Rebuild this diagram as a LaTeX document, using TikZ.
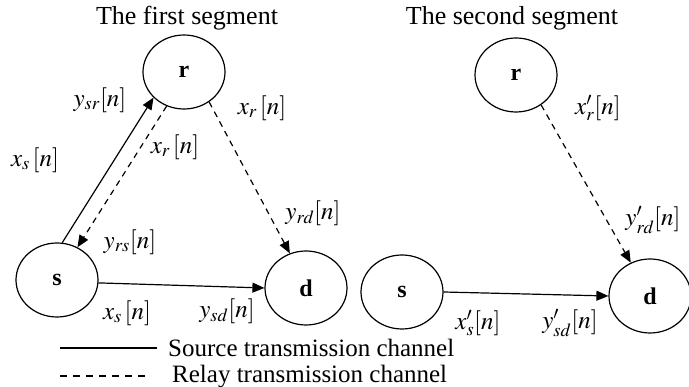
\documentclass[tikz,border=0pt]{standalone}
\usepackage{mathptmx}
\usepackage[no-math]{fontspec}
\setmainfont{Liberation Serif}
\usetikzlibrary{arrows.meta,shapes.geometric}
\begin{document}
\begin{tikzpicture}[x=1pt,y=-1pt,
  nd/.style={ellipse, draw, line width=1.2pt, minimum width=82pt, minimum height=74pt, inner sep=0pt, font=\fontsize{24}{24}\selectfont\bfseries},
  lb/.style={font=\fontsize{25}{25}\selectfont, inner sep=0pt},
  ttl/.style={font=\fontsize{26}{26}\selectfont, inner sep=0pt},
  leg/.style={font=\fontsize{25}{25}\selectfont, inner sep=0pt, anchor=west},
  solidarr/.style={line width=1.2pt, -{Triangle[length=12pt,width=10pt]}},
  dasharr/.style={solidarr, dash pattern=on 6pt off 5pt},
  legline/.style={line width=1.2pt},
  legdash/.style={line width=1.2pt, dash pattern=on 7pt off 6pt}]
\useasboundingbox (0,0) rectangle (689,387);
% titles
\node[ttl] (t1) at (187,18) {The first segment};
\node[ttl] (t2) at (512,18) {The second segment};
% first segment nodes
\node[nd] (r1) at (184,72) {r};
\node[nd] (s1) at (57,280) {s};
\node[nd] (d1) at (306,288) {d};
% second segment nodes
\node[nd] (r2) at (516,75) {r};
\node[nd] (s2) at (402,292) {s};
\node[nd] (d2) at (650,296) {d};
% first segment edges
\draw[solidarr] (s1.82) -- (r1.220);
\draw[dasharr] (r1.243) -- (s1.58);
\draw[dasharr] (r1.310) -- (d1.115);
\draw[solidarr] (s1.-4) -- (d1.west);
% second segment edges
\draw[dasharr] (r2.310) -- (d2.120);
\draw[solidarr] (s2.east) -- (d2.west);
% labels first segment
\node[lb] (l1) at (100,100) {$y_{sr}[n]$};
\node[lb] (l2) at (262,108) {$x_r\,[n]$};
\node[lb] (l3) at (175,147) {$x_r\,[n]$};
\node[lb] (l4) at (35,160) {$x_s\,[n]$};
\node[lb] (l5) at (313,213) {$y_{rd}[n]$};
\node[lb] (l6) at (130,242) {$y_{rs}[n]$};
\node[lb] (l7) at (127,313) {$x_s\,[n]$};
\node[lb] (l8) at (227,311) {$y_{sd}[n]$};
% labels second segment
\node[lb] (m1) at (598,108) {$x'_r[n]$};
\node[lb] (m2) at (653,220) {$y'_{rd}[n]$};
\node[lb] (m3) at (478,323) {$x'_s[n]$};
\node[lb] (m4) at (570,323) {$y'_{sd}[n]$};
% legend
\coordinate (a1) at (60,348);
\coordinate (a2) at (157,348);
\coordinate (b1) at (60,376);
\coordinate (b2) at (147,376);
\draw[legline] (a1) -- (a2);
\draw[legdash] (b1) -- (b2);
\node[leg] (e1) at (168,348) {Source transmission channel};
\node[leg] (e2) at (172,377) {Relay transmission channel};
\end{tikzpicture}
\end{document}
